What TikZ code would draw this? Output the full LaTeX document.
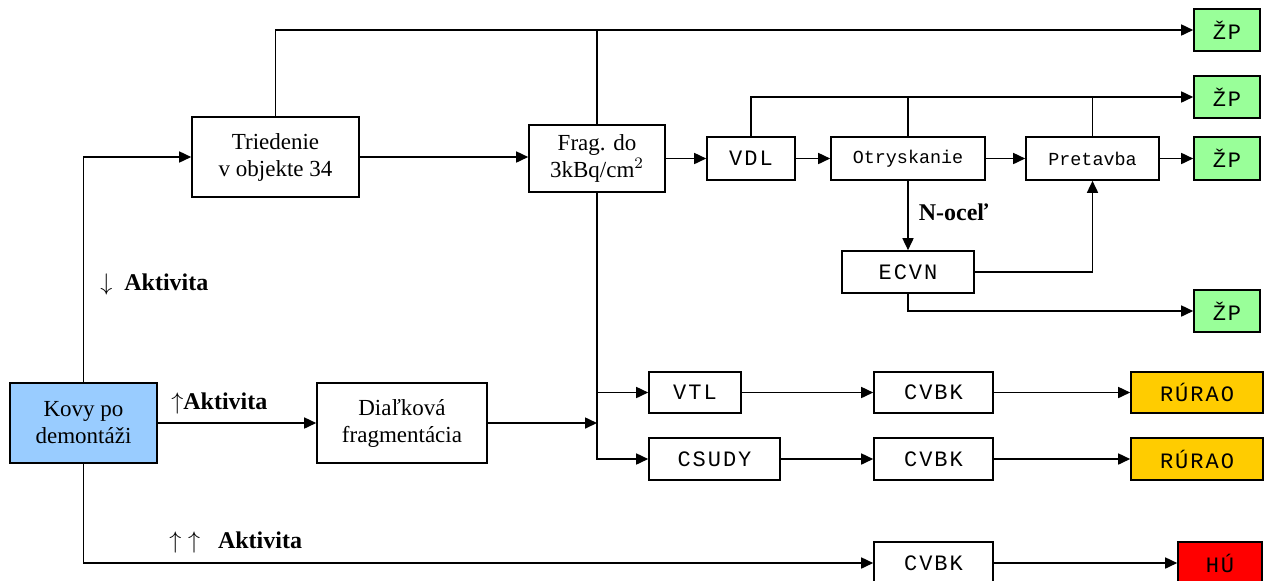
\documentclass[tikz,border=0pt]{standalone}
\usepackage{fontspec}
\setmainfont{Liberation Serif}
\newfontfamily\monofnt{Liberation Mono}
\newfontfamily\capsfnt[LetterSpace=9]{Liberation Mono}
\usepackage{tikz}
\usetikzlibrary{arrows.meta,positioning}
\definecolor{kovyblue}{HTML}{99CCFF}
\definecolor{zpgreen}{HTML}{99FF99}
\definecolor{ruraoyellow}{HTML}{FFCC00}
\definecolor{hured}{HTML}{FF0000}
\tikzset{
  box/.style={draw,line width=0.8pt,fill=white,inner sep=1pt,align=center,font=\fontsize{11.5}{13.5}\selectfont},
  mbox/.style={box,font=\monofnt\fontsize{9.2}{11}\selectfont},
  cbox/.style={box,font=\capsfnt\fontsize{11}{12}\selectfont},
  flow/.style={line width=0.8pt,-{Triangle[length=6pt,width=5.5pt]}},
  link/.style={line width=0.8pt},
  lbl/.style={font=\bfseries\fontsize{12}{13}\selectfont,inner sep=0pt,anchor=west},
}
\begin{document}
\begin{tikzpicture}[x=0.5pt,y=-0.5pt]
        \useasboundingbox (0,0) rectangle (1267,580);
        \clip (0,0) rectangle (1267,580);

        % vstup a triedenie
        \node[box,fill=kovyblue,minimum width=73.5pt,minimum height=40pt] (kovy) at (83.5,423) {Kovy po\\demontáži};
        \node[box,minimum width=83.5pt,minimum height=40pt] (tried) at (275.5,157) {Triedenie\\v objekte 34};
        \node[box,minimum width=68pt,minimum height=33.5pt] (frag) at (597,158.5) {Frag. do\\3kBq/cm$^2$};
        \node[box,minimum width=85pt,minimum height=40pt] (dial) at (402,423) {Diaľková\\fragmentácia};

        % horna vetva
        \node[cbox,minimum width=44pt,minimum height=21.5pt] (vdl) at (751,158.5) {VDL};
        \node[mbox,minimum width=77pt,minimum height=21.5pt] (otr) at (908,158.5) {Otryskanie};
        \node[mbox,minimum width=66.5pt,minimum height=21.5pt] (pret) at (1092.5,158.5) {Pretavba};
        \node[cbox,minimum width=66pt,minimum height=21pt] (ecvn) at (908,272) {ECVN};

        \node[cbox,fill=zpgreen,minimum width=33pt,minimum height=21pt] (zp1) at (1227,30) {ŽP};
        \node[cbox,fill=zpgreen,minimum width=33pt,minimum height=21pt] (zp2) at (1227,97) {ŽP};
        \node[cbox,fill=zpgreen,minimum width=33pt,minimum height=21.5pt] (zp3) at (1227,158.5) {ŽP};
        \node[cbox,fill=zpgreen,minimum width=33pt,minimum height=21pt] (zp4) at (1227,311) {ŽP};

        % dolna vetva
        \node[cbox,minimum width=46pt,minimum height=20.5pt] (vtl) at (695,392.5) {VTL};
        \node[cbox,minimum width=65.5pt,minimum height=21pt] (csudy) at (714.5,459) {CSUDY};
        \node[cbox,minimum width=59.5pt,minimum height=20.5pt] (cvbk1) at (933.5,392.5) {CVBK};
        \node[cbox,minimum width=59.5pt,minimum height=21pt] (cvbk2) at (933.5,459) {CVBK};
        \node[cbox,minimum width=59.5pt,minimum height=21pt] (cvbk3) at (933.5,563) {CVBK};
        \node[cbox,fill=ruraoyellow,minimum width=66pt,minimum height=20.5pt] (rurao1) at (1197,392.5) {RÚRAO};
        \node[cbox,fill=ruraoyellow,minimum width=66pt,minimum height=21pt] (rurao2) at (1197,459) {RÚRAO};
        \node[cbox,fill=hured,minimum width=42pt,minimum height=21pt] (hu) at (1220,563) {HÚ};

        % popisky
        \node[lbl] (akt1) at (100,284) {$\downarrow$\ \ Aktivita};
        \node[lbl] (akt2) at (171,403) {$\uparrow$Aktivita};
        \node[lbl] (akt3) at (169,542) {$\uparrow\;\uparrow$\ \ \ Aktivita};

        \coordinate (fj) at (597,423);

        % spojnice
        \draw[flow] (kovy.north) |- (tried.west);
        \draw[flow] (tried.north) |- (zp1.west);
        \draw[link] (frag.north) -- (frag.north |- zp1.west);
        \draw[flow] (tried.east) -- (tried.east -| frag.west);
        \draw[flow] (frag) -- (vdl);
        \draw[flow] (vdl) -- (otr);
        \draw[flow] (otr) -- (pret);
        \draw[flow] (pret) -- (zp3);
        \draw[flow] (vdl.north) |- (zp2.west);
        \draw[link] (otr.north) -- (otr.north |- zp2.west);
        \draw[link] (pret.north) -- (pret.north |- zp2.west);
        \draw[flow] (otr.south) -- (ecvn.north) node[lbl,pos=0.45,xshift=5pt] (nocel) {N-oceľ};
        \draw[flow] (ecvn.east) -| (pret.south);
        \draw[flow] (ecvn.south) |- (zp4.west);

        \draw[flow] (kovy) -- (dial);
        \draw[flow] (dial) -- (fj);
        \draw[flow] (frag.south) |- (csudy.west);
        \draw[flow] (frag.south |- vtl.west) -- (vtl.west);
        \draw[flow] (vtl) -- (cvbk1);
        \draw[flow] (cvbk1) -- (rurao1);
        \draw[flow] (csudy) -- (cvbk2);
        \draw[flow] (cvbk2) -- (rurao2);
        \draw[flow] (kovy.south) |- (cvbk3.west);
        \draw[flow] (cvbk3) -- (hu);
    \end{tikzpicture}
\end{document}
